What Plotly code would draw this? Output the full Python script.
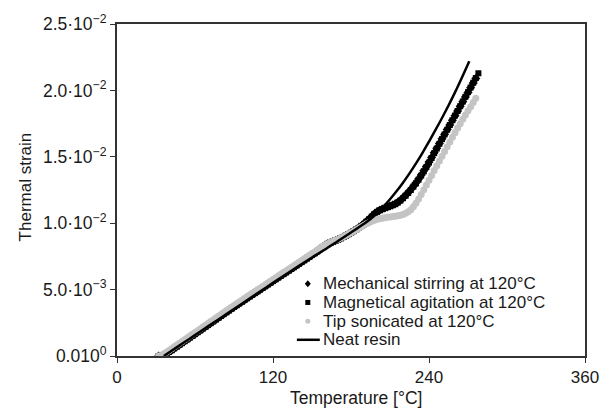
import plotly.graph_objects as go

# Temperature grid of the measured marker series (°C)
temp_markers = list(range(32, 280, 2))

# Thermal strain (x 1e-3)
magnetical = [
    0.00, 0.00, 0.05, 0.17, 0.30, 0.43, 0.57, 0.70, 0.84, 0.97,
    1.11, 1.24, 1.38, 1.51, 1.65, 1.79, 1.92, 2.06, 2.19, 2.33,
    2.47, 2.60, 2.74, 2.87, 3.01, 3.15, 3.28, 3.42, 3.55, 3.69,
    3.82, 3.95, 4.08, 4.21, 4.34, 4.47, 4.60, 4.73, 4.86, 4.99,
    5.12, 5.25, 5.38, 5.51, 5.64, 5.77, 5.90, 6.03, 6.16, 6.29,
    6.42, 6.55, 6.68, 6.81, 6.94, 7.07, 7.20, 7.33, 7.46, 7.60,
    7.73, 7.87, 8.02, 8.18, 8.35, 8.45, 8.52, 8.60, 8.68, 8.77,
    8.86, 8.96, 9.06, 9.17, 9.28, 9.40, 9.52, 9.65, 9.80, 9.95,
    10.12, 10.30, 10.50, 10.70, 10.85, 10.97, 11.06, 11.14, 11.21, 11.28,
    11.35, 11.43, 11.55, 11.70, 11.88, 12.07, 12.28, 12.50, 12.75, 13.00,
    13.28, 13.58, 13.90, 14.22, 14.56, 14.91, 15.27, 15.62, 15.98, 16.33,
    16.68, 17.04, 17.39, 17.75, 18.10, 18.45, 18.81, 19.16, 19.52, 19.87,
    20.22, 20.58, 20.93, 21.29,
]

mechanical = [
    0.00, 0.00, 0.06, 0.18, 0.31, 0.44, 0.57, 0.71, 0.84, 0.98,
    1.11, 1.25, 1.38, 1.52, 1.65, 1.79, 1.93, 2.06, 2.20, 2.33,
    2.47, 2.61, 2.74, 2.88, 3.01, 3.15, 3.29, 3.42, 3.56, 3.69,
    3.82, 3.95, 4.08, 4.21, 4.35, 4.48, 4.61, 4.74, 4.87, 5.00,
    5.13, 5.26, 5.39, 5.52, 5.65, 5.78, 5.91, 6.04, 6.17, 6.30,
    6.43, 6.56, 6.69, 6.82, 6.95, 7.08, 7.21, 7.34, 7.47, 7.61,
    7.74, 7.88, 8.03, 8.19, 8.34, 8.44, 8.52, 8.60, 8.68, 8.77,
    8.86, 8.96, 9.06, 9.17, 9.28, 9.40, 9.52, 9.66, 9.81, 9.97,
    10.14, 10.32, 10.52, 10.71, 10.86, 10.98, 11.07, 11.15, 11.22, 11.29,
    11.37, 11.46, 11.58, 11.73, 11.91, 12.10, 12.31, 12.54, 12.79, 13.05,
    13.33, 13.63, 13.95, 14.27, 14.60, 14.95, 15.30, 15.65, 16.00, 16.35,
    16.70, 17.05, 17.40, 17.75, 18.10, 18.45, 18.80, 19.15, 19.50, 19.85,
    20.20, 20.55, 20.90,
]

tip_sonicated = [
    0.00, 0.04, 0.15, 0.29, 0.42, 0.55, 0.69, 0.82, 0.96, 1.09,
    1.23, 1.36, 1.50, 1.63, 1.77, 1.91, 2.04, 2.18, 2.31, 2.45,
    2.59, 2.72, 2.86, 2.99, 3.13, 3.27, 3.40, 3.54, 3.67, 3.81,
    3.94, 4.07, 4.20, 4.33, 4.46, 4.59, 4.72, 4.85, 4.98, 5.11,
    5.24, 5.37, 5.50, 5.63, 5.76, 5.89, 6.02, 6.15, 6.28, 6.41,
    6.54, 6.67, 6.80, 6.93, 7.06, 7.19, 7.32, 7.45, 7.58, 7.71,
    7.84, 7.98, 8.12, 8.26, 8.38, 8.46, 8.54, 8.62, 8.71, 8.80,
    8.89, 8.98, 9.08, 9.18, 9.29, 9.40, 9.51, 9.62, 9.73, 9.84,
    9.95, 10.05, 10.14, 10.22, 10.29, 10.34, 10.38, 10.41, 10.44, 10.47,
    10.50, 10.53, 10.56, 10.60, 10.66, 10.74, 10.86, 11.02, 11.24, 11.50,
    11.82, 12.17, 12.52, 12.88, 13.24, 13.60, 13.96, 14.32, 14.68, 15.04,
    15.40, 15.76, 16.12, 16.47, 16.82, 17.16, 17.49, 17.82, 18.14, 18.46,
    18.77, 19.08, 19.40,
]

# Neat resin (continuous line)
temp_neat = [36, 40, 50, 60, 70, 80, 90, 100, 110, 120, 130, 140, 150, 160,
             170, 180, 190, 195, 200, 205, 210, 215, 220, 225, 230, 235, 240,
             245, 250, 255, 260, 265, 271]
neat_resin = [0.00, 0.26, 0.92, 1.57, 2.23, 2.88, 3.54, 4.20, 4.85, 5.51,
              6.16, 6.80, 7.42, 8.02, 8.66, 9.30, 9.96, 10.32, 10.75, 11.25,
              11.80, 12.40, 13.05, 13.75, 14.50, 15.30, 16.15, 17.02, 17.92,
              18.86, 19.85, 20.90, 22.20]

scale = 1e-3

series_names = ["Mechanical stirring at 120°C", "Magnetical agitation at 120°C",
                "Tip sonicated at 120°C", "Neat resin"]

y_tick_vals = [0.0, 0.005, 0.010, 0.015, 0.020, 0.025]
y_tick_text = ["0.010<sup>0</sup>", "5.0·10<sup>−3</sup>", "1.0·10<sup>−2</sup>",
               "1.5·10<sup>−2</sup>", "2.0·10<sup>−2</sup>", "2.5·10<sup>−2</sup>"]
x_tick_vals = [0, 120, 240, 360]

FONT = "Liberation Sans, Arial, sans-serif"
TXT = "#1a1a1a"
GRAY = "#c4c4c4"

# plot area geometry (pixels)
W, H = 611, 408
ML, MR, MT, MB = 117, 14, 18, 52
PW, PH = W - ML - MR, H - MT - MB


def fx(px):
    return (px - ML) / PW


def fy(py):
    return (H - MB - py) / PH


fig = go.Figure()
fig.add_trace(go.Scatter(
    x=temp_markers[:len(mechanical)], y=[v * scale for v in mechanical],
    mode="markers", name=series_names[0],
    marker=dict(symbol="diamond", size=7, color="black", line=dict(width=0)),
))
fig.add_trace(go.Scatter(
    x=temp_markers[:len(magnetical)], y=[v * scale for v in magnetical],
    mode="markers", name=series_names[1],
    marker=dict(symbol="square", size=6, color="black", line=dict(width=0)),
))
fig.add_trace(go.Scatter(
    x=temp_markers[:len(tip_sonicated)], y=[v * scale for v in tip_sonicated],
    mode="markers", name=series_names[2],
    marker=dict(symbol="circle", size=7, color=GRAY, line=dict(width=0)),
))
fig.add_trace(go.Scatter(
    x=temp_neat, y=[v * scale for v in neat_resin],
    mode="lines", name=series_names[3],
    line=dict(color="black", width=2.5, shape="spline"),
))

# ---- legend drawn as text annotations + symbol shapes ----
leg_rows_py = [282.5, 301.5, 320.5, 339.5]
sym_x = 312.7
text_x = 327
annotations = []
for name, py in zip(series_names, leg_rows_py):
    annotations.append(dict(
        x=fx(text_x), y=fy(py), xref="paper", yref="paper",
        text=name, showarrow=False, xanchor="left", yanchor="middle",
        font=dict(family=FONT, size=17, color=TXT), borderpad=0,
    ))

shapes = [
    # diamond
    dict(type="path", xref="paper", yref="paper", xsizemode="pixel", ysizemode="pixel",
         xanchor=fx(sym_x), yanchor=fy(leg_rows_py[0]),
         path="M 0 3.5 L 3 0 L 0 -3.5 L -3 0 Z",
         fillcolor="black", line=dict(width=0)),
    # square
    dict(type="rect", xref="paper", yref="paper", xsizemode="pixel", ysizemode="pixel",
         xanchor=fx(sym_x), yanchor=fy(leg_rows_py[1]), x0=-2.5, x1=2.5, y0=-2.5, y1=2.5,
         fillcolor="black", line=dict(width=0)),
    # circle
    dict(type="circle", xref="paper", yref="paper", xsizemode="pixel", ysizemode="pixel",
         xanchor=fx(sym_x), yanchor=fy(leg_rows_py[2]), x0=-2.5, x1=2.5, y0=-2.5, y1=2.5,
         fillcolor=GRAY, line=dict(width=0)),
    # line
    dict(type="line", xref="paper", yref="paper",
         x0=fx(301.5), x1=fx(325), y0=fy(leg_rows_py[3]), y1=fy(leg_rows_py[3]),
         line=dict(color="black", width=2.5)),
]

# axis titles
annotations.append(dict(
    x=fx(23), y=fy(184), xref="paper", yref="paper", text="Thermal strain",
    textangle=-90, showarrow=False, xanchor="center", yanchor="middle",
    font=dict(family=FONT, size=17, color=TXT),
))
annotations.append(dict(
    x=fx(362), y=fy(399), xref="paper", yref="paper", text="Temperature [°C]",
    showarrow=False, xanchor="center", yanchor="middle",
    font=dict(family=FONT, size=17.5, color=TXT),
))

fig.update_layout(
    width=W, height=H,
    margin=dict(l=ML, r=MR, t=MT, b=MB),
    paper_bgcolor="white", plot_bgcolor="white",
    font=dict(family=FONT, size=17, color=TXT),
    showlegend=False,
    annotations=annotations,
    shapes=shapes,
)
fig.update_xaxes(
    range=[0, 360], tickvals=x_tick_vals,
    showgrid=False, zeroline=False,
    showline=True, linecolor="#333333", linewidth=2, mirror=True,
    ticks="outside", ticklen=5, tickwidth=1, tickcolor="#333333",
    tickfont=dict(family=FONT, size=17, color=TXT),
    ticklabeloverflow="allow",
)
fig.update_yaxes(
    range=[0, 0.025], tickvals=y_tick_vals, ticktext=y_tick_text,
    showgrid=False, zeroline=False,
    showline=True, linecolor="#333333", linewidth=2, mirror=True,
    ticks="outside", ticklen=5, tickwidth=1, tickcolor="#333333",
    tickfont=dict(family=FONT, size=17.5, color=TXT),
    ticklabeloverflow="allow",
)

fig.write_html("out.html")
